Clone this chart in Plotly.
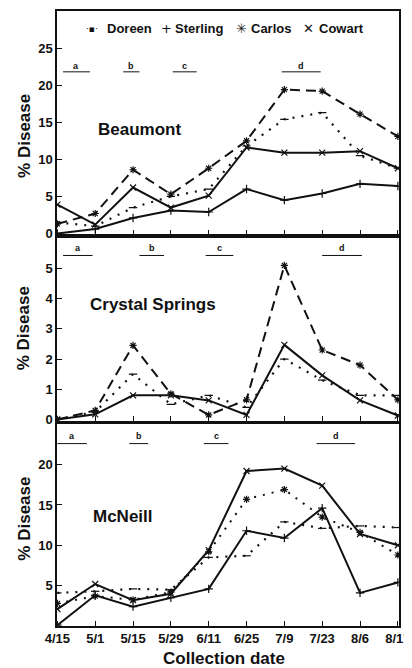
import plotly.graph_objects as go

dates = ["4/15", "5/1", "5/15", "5/29", "6/11", "6/25", "7/9", "7/23", "8/6", "8/17"]

# Beaumont
doreen_b = [1.5, 1.0, 3.5, 5.0, 6.0, 11.8, 15.4, 16.3, 10.5, 8.8]
sterling_b = [0.0, 0.6, 2.1, 3.1, 2.9, 6.0, 4.5, 5.4, 6.7, 6.4]
carlos_b = [1.3, 2.7, 8.6, 5.3, 8.8, 12.5, 19.4, 19.2, 16.1, 13.1]
cowart_b = [3.9, 1.2, 6.2, 3.5, 5.1, 11.6, 10.9, 10.9, 11.1, 8.8]

# Crystal Springs
doreen_c = [0.0, 0.25, 1.5, 0.5, 0.8, 0.4, 2.0, 1.3, 0.8, 0.8]
cowart_c = [0.0, 0.17, 0.8, 0.8, 0.63, 0.15, 2.47, 1.46, 0.63, 0.13]
carlos_c = [0.0, 0.3, 2.45, 0.85, 0.15, 0.65, 5.1, 2.3, 1.8, 0.65]

# McNeill
doreen_m = [4.1, 4.3, 4.6, 4.5, 8.5, 8.7, 12.9, 12.1, 12.4, 12.2]
sterling_m = [0.1, 3.8, 2.4, 3.5, 4.6, 11.8, 10.9, 14.6, 4.1, 5.4]
carlos_m = [2.8, 3.7, 3.25, 4.2, 9.2, 15.7, 16.9, 13.5, 11.6, 8.8]
cowart_m = [2.1, 5.2, 3.2, 4.0, 9.4, 19.2, 19.5, 17.4, 11.4, 10.0]

panel_names = ["Beaumont", "Crystal Springs", "McNeill"]
ticks_top = [0, 5, 10, 15, 20, 25]
ticks_mid = [0, 1, 2, 3, 4, 5]
ticks_bot = [0, 5, 10, 15, 20]
ticktext_bot = ["", "5", "10", "15", "20"]
legend_names = ["Doreen", "Sterling", "Carlos", "Cowart"]
group_letters = ["a", "b", "c", "d"]

INK = "#111111"
FONT = "Liberation Sans, Arial, sans-serif"

DOT = "2px,7px"
DASH = "10px,6px"

style = {
    "Doreen": dict(dash=DOT, symbol="line-ew-open", width=2.2),
    "Sterling": dict(dash="solid", symbol="cross-thin-open", width=2),
    "Carlos": dict(dash=DASH, symbol="asterisk-open", width=2),
    "Cowart": dict(dash="solid", symbol="x-thin-open", width=2),
}

# page has an 8px body margin: figure is drawn at (8, 8)
W, H = 404, 660
ML, MR, MT, MB = 49, 10, 1, 42
PW = W - ML - MR
PH = H - MT - MB


def px_x(page_x):
    return (page_x - 8 - ML) / PW


def px_y(page_y):
    return 1 - (page_y - 8 - MT) / PH


fig = go.Figure()


def add(series, name, xa, ya, dash=None):
    s = style[name]
    fig.add_trace(go.Scatter(
        x=dates, y=series, name=name, mode="lines+markers", showlegend=False,
        xaxis=xa, yaxis=ya,
        line=dict(color=INK, width=s["width"], dash=dash or s["dash"]),
        marker=dict(symbol=s["symbol"], size=6, color=INK, line=dict(color=INK, width=1.2)),
    ))


add(doreen_b, "Doreen", "x", "y")
add(sterling_b, "Sterling", "x", "y")
add(carlos_b, "Carlos", "x", "y")
add(cowart_b, "Cowart", "x", "y")

add(doreen_c, "Doreen", "x2", "y2")
add(cowart_c, "Cowart", "x2", "y2")
add(carlos_c, "Carlos", "x2", "y2")

add(doreen_m, "Doreen", "x3", "y3")
add(sterling_m, "Sterling", "x3", "y3")
add(carlos_m, "Carlos", "x3", "y3", dash=DOT)
add(cowart_m, "Cowart", "x3", "y3")

xcommon = dict(type="category", range=[-0.01, 9.03], showgrid=False, zeroline=False,
               showline=True, linecolor=INK, linewidth=1.5, mirror=True,
               ticks="inside", ticklen=5, tickcolor=INK, tickwidth=1)
ycommon = dict(showgrid=False, zeroline=False, showline=True, linecolor=INK, linewidth=1.5,
               mirror=True, ticks="inside", ticklen=5, tickcolor=INK, tickwidth=1,
               tickfont=dict(family=FONT, size=13, color=INK, weight="bold"))

fig.update_layout(
    width=W, height=H,
    margin=dict(l=ML, r=MR, t=MT, b=MB),
    paper_bgcolor="white", plot_bgcolor="white",
    font=dict(family=FONT, color=INK),
    xaxis=dict(xcommon, anchor="y", showticklabels=False, domain=[0, 1]),
    xaxis2=dict(xcommon, anchor="y2", showticklabels=False, domain=[0, 1]),
    xaxis3=dict(xcommon, anchor="y3", showticklabels=True, domain=[0, 1],
                tickfont=dict(family=FONT, size=13, color=INK, weight="bold")),
    yaxis=dict(ycommon, anchor="x", domain=[px_y(233), 1.0], range=[-0.1, 30.0], tickvals=ticks_top),
    yaxis2=dict(ycommon, anchor="x2", domain=[px_y(420), px_y(237)], range=[-0.04, 6.0], tickvals=ticks_mid),
    yaxis3=dict(ycommon, anchor="x3", domain=[0.0, px_y(423)], range=[0.0, 25.07],
                tickvals=ticks_bot, ticktext=ticktext_bot),
)

ann = []
shapes = []
# y-axis titles
for py in [134, 327, 518]:
    ann.append(dict(xref="paper", yref="paper", x=px_x(24), y=px_y(py), text="% Disease",
                    textangle=-90, showarrow=False, xanchor="center", yanchor="middle",
                    font=dict(family=FONT, size=17, color=INK, weight="bold")))
ann.append(dict(xref="paper", yref="paper", x=px_x(225), y=px_y(659),
                text="Collection date", showarrow=False, xanchor="center", yanchor="middle",
                font=dict(family=FONT, size=17, color=INK, weight="bold")))

# panel titles
title_pos = [("x", "y", 1.02, 14.0), ("x2", "y2", 0.8, 3.82), ("x3", "y3", 0.9, 13.6)]
for name, (xa, ya, xx, yy) in zip(panel_names, title_pos):
    ann.append(dict(xref=xa, yref=ya, x=xx, y=yy, text=name, showarrow=False,
                    xanchor="left", yanchor="middle",
                    font=dict(family=FONT, size=17, color=INK, weight="bold")))

# group letters with bars
groups = [
    ("x", "y", 22.6, 21.8, [(0.15, 0.86), (1.74, 2.17), (3.05, 3.68), (5.93, 6.96)]),
    ("x2", "y2", 5.67, 5.43, [(0.15, 0.93), (2.17, 2.82), (3.92, 4.65), (7.0, 8.05)]),
    ("x3", "y3", 23.6, 22.6, [(0.0, 0.78), (1.9, 2.4), (3.87, 4.52), (6.85, 7.87)]),
]
for xa, ya, ly, by, spans in groups:
    for letter, (x0, x1) in zip(group_letters, spans):
        ann.append(dict(xref=xa, yref=ya, x=(x0 + x1) / 2, y=ly, text=letter, showarrow=False,
                        xanchor="center", yanchor="middle",
                        font=dict(family=FONT, size=9, color=INK, weight="bold")))
        shapes.append(dict(type="line", xref=xa, yref=ya, x0=x0, x1=x1, y0=by, y1=by,
                           line=dict(color=INK, width=1)))

# legend (drawn as text inside top panel)
ly = px_y(27)
leg_sym = ["·▪·", "+", "✳", "✕"]
sym_x = [92, 167, 243, 311]
txt_x = [105, 174, 251, 319]
for name, sym, sx, tx in zip(legend_names, leg_sym, sym_x, txt_x):
    ann.append(dict(xref="paper", yref="paper", x=px_x(sx), y=ly, text=sym, showarrow=False,
                    xanchor="center", yanchor="middle",
                    font=dict(family="DejaVu Sans", size=13 if sym != "·▪·" else 9, color=INK)))
    ann.append(dict(xref="paper", yref="paper", x=px_x(tx), y=ly, text=name, showarrow=False,
                    xanchor="left", yanchor="middle",
                    font=dict(family=FONT, size=13, color=INK, weight="bold")))

fig.update_layout(annotations=ann, shapes=shapes)
fig.write_html("out.html")
